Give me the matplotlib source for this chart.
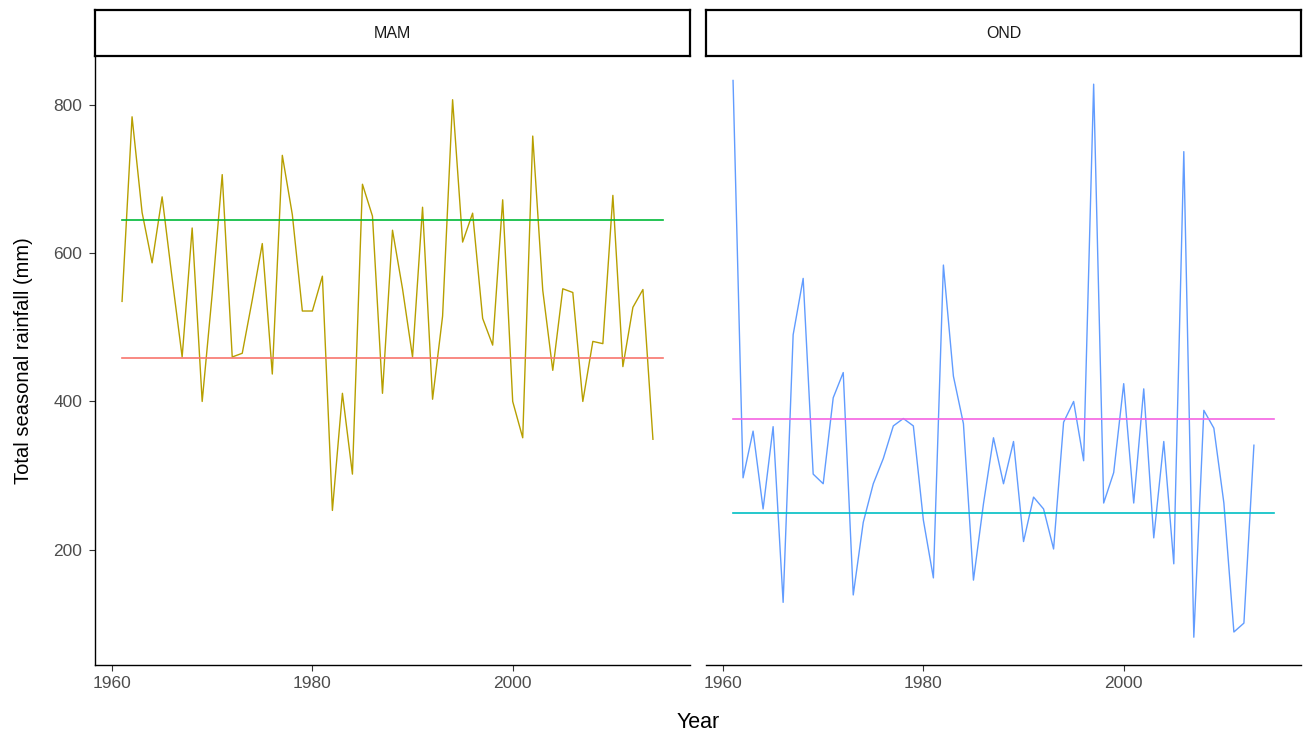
import matplotlib
matplotlib.use("Agg")
import matplotlib.pyplot as plt
import numpy as np

plt.rcParams['font.family'] = ['Liberation Sans', 'DejaVu Sans']

# ---- data ----
mam_years = list(range(1961, 2015))
mam_rain = [535, 784, 655, 587, 676, 566, 460, 634, 400, 545,
            706, 460, 465, 537, 613, 437, 732, 652, 522, 522,
            569, 253, 411, 302, 693, 650, 411, 631, 552, 460,
            662, 403, 515, 807, 615, 654, 512, 476, 672, 400,
            351, 758, 550, 442, 552, 547, 400, 481, 478, 678,
            447, 527, 551, 349]
ond_years = list(range(1961, 2014))
ond_rain = [833, 297, 360, 255, 366, 129, 490, 566, 302, 289,
            405, 439, 139, 237, 289, 323, 367, 377, 367, 240,
            162, 584, 434, 370, 159, 262, 351, 289, 346, 211,
            271, 255, 201, 372, 400, 320, 828, 263, 304, 424,
            263, 417, 216, 346, 181, 737, 82, 388, 364, 263,
            89, 101, 341]
ref_years = [1961, 2015]
mam_upper = 645
mam_lower = 458
ond_upper = 377
ond_lower = 249

panels = ["MAM", "OND"]
xticks = [1960, 1980, 2000]
yticks = [200, 400, 600, 800]

W, H = 1305, 738
fig = plt.figure(figsize=(W / 100, H / 100), dpi=100)

ax_bottom = 1 - 665 / H
ax_h = (665 - 56) / H
ax_w = 595 / W
lefts = [95 / W, 706 / W]

ylim = (44.5, 866)
xr = ref_years[1] - ref_years[0]
xlim = (ref_years[0] - 0.05 * xr, ref_years[1] + 0.05 * xr)

series = [
    (mam_years, mam_rain, "#B79F00", mam_upper, "#00BA38", mam_lower, "#F8766D"),
    (ond_years, ond_rain, "#619CFF", ond_upper, "#F564E3", ond_lower, "#00BFC4"),
]

tick_color = "#4D4D4D"
for i, (name, (xs, ys, col, up, upc, lo, loc)) in enumerate(zip(panels, series)):
    ax = fig.add_axes([lefts[i], ax_bottom, ax_w, ax_h])
    ax.plot(xs, ys, color=col, lw=1.0)
    ax.plot(ref_years, [up, up], color=upc, lw=1.2)
    ax.plot(ref_years, [lo, lo], color=loc, lw=1.2)
    ax.set_xlim(*xlim)
    ax.set_ylim(*ylim)
    ax.set_xticks(xticks)
    ax.set_xticklabels([str(t) for t in xticks])
    for s in ["top", "right"]:
        ax.spines[s].set_visible(False)
    ax.spines["bottom"].set_linewidth(1.0)
    ax.spines["bottom"].set_color("black")
    ax.tick_params(axis="x", length=4, width=0.8, color="#333333",
                   labelsize=12.5, labelcolor=tick_color, pad=4)
    if i == 0:
        ax.set_yticks(yticks)
        ax.set_yticklabels([str(t) for t in yticks])
        ax.spines["left"].set_linewidth(1.0)
        ax.spines["left"].set_color("black")
        ax.tick_params(axis="y", length=4, width=0.8, color="#333333",
                       labelsize=12.5, labelcolor=tick_color, pad=5)
        ax.set_ylabel("Total seasonal rainfall (mm)", fontsize=14.5,
                      color="black", labelpad=15)
    else:
        ax.spines["left"].set_visible(False)
        ax.set_yticks([])
    # strip
    sax = fig.add_axes([lefts[i], 1 - 56 / H, ax_w, 46 / H])
    sax.set_xticks([])
    sax.set_yticks([])
    for s in sax.spines.values():
        s.set_linewidth(1.6)
        s.set_color("black")
    sax.text(0.5, 0.5, name, ha="center", va="center", fontsize=11.5,
             color="#1A1A1A", transform=sax.transAxes)

fig.text(698 / W, 1 - 722 / H, "Year", ha="center", va="center",
         fontsize=15.5, color="black")

fig.savefig("out.png", dpi=100)
